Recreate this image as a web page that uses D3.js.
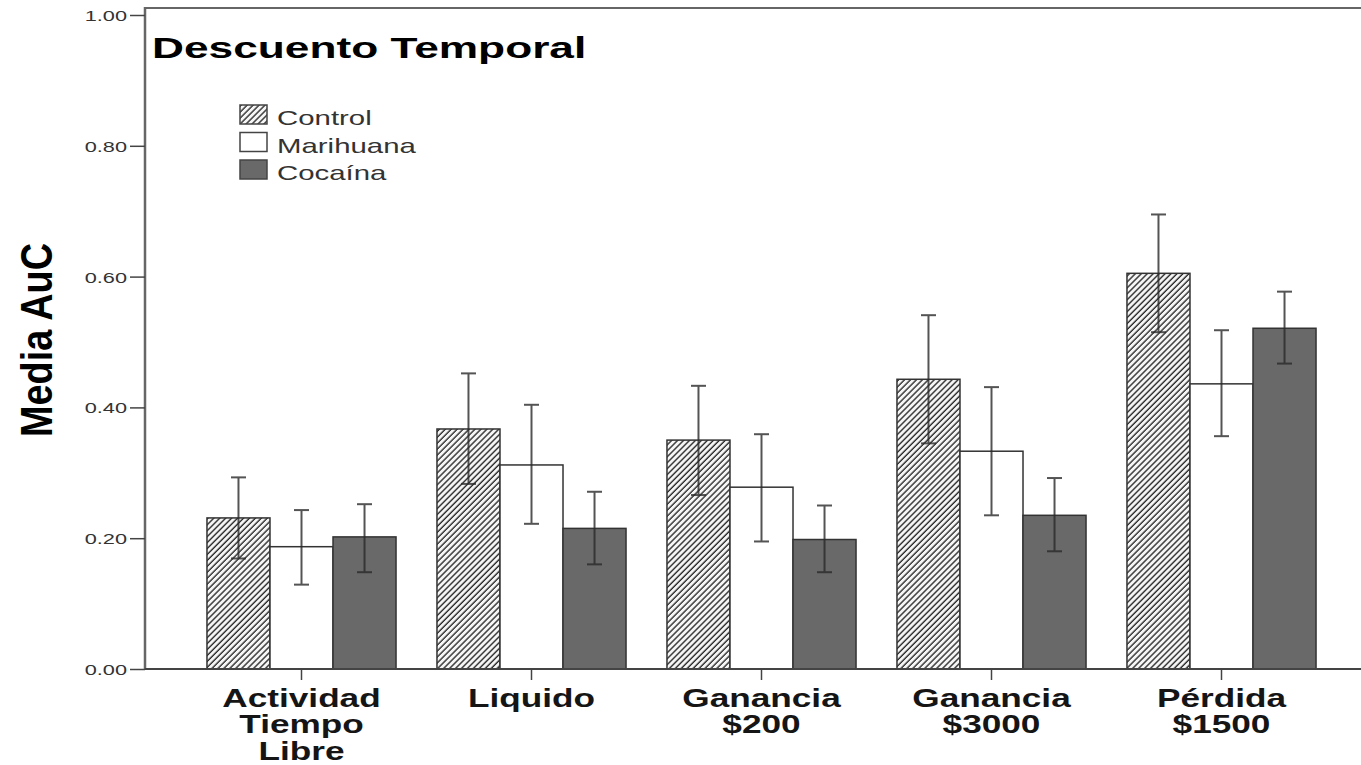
<!DOCTYPE html>
<html>
<head>
<meta charset="utf-8">
<script src="https://cdn.jsdelivr.net/npm/d3@7"></script>
<style>
    body { margin: 0; background: #fff; }
    text { font-family: "Liberation Sans", Arial, sans-serif; }
</style>
</head>
<body>
<div id="chart"></div>
<script>
// categories (one array of lines per label)
const categories = [
    ['Actividad', 'Tiempo', 'Libre'],
    ['Liquido'],
    ['Ganancia', '$200'],
    ['Ganancia', '$3000'],
    ['Pérdida', '$1500']
]
const seriesNames = ['Control', 'Marihuana', 'Cocaína']

const controlMean = [0.231, 0.367, 0.350, 0.443, 0.605]
const controlLow = [0.169, 0.283, 0.266, 0.345, 0.515]
const controlHigh = [0.293, 0.452, 0.433, 0.541, 0.695]

const marihuanaMean = [0.187, 0.312, 0.278, 0.333, 0.436]
const marihuanaLow = [0.129, 0.222, 0.195, 0.235, 0.356]
const marihuanaHigh = [0.243, 0.404, 0.359, 0.431, 0.518]

const cocainaMean = [0.202, 0.215, 0.198, 0.235, 0.521]
const cocainaLow = [0.148, 0.160, 0.148, 0.180, 0.467]
const cocainaHigh = [0.252, 0.271, 0.250, 0.292, 0.577]

const yTicks = [0, 0.2, 0.4, 0.6, 0.8, 1.0]

const createGraph = () => {
    const width = 1361
    const height = 765
    const left = 145
    const right = 1361
    const y0 = 669
    const y1 = 15

    const series = [
        { name: seriesNames[0], mean: controlMean, low: controlLow, high: controlHigh, fill: 'url(#hatch)' },
        { name: seriesNames[1], mean: marihuanaMean, low: marihuanaLow, high: marihuanaHigh, fill: '#ffffff' },
        { name: seriesNames[2], mean: cocainaMean, low: cocainaLow, high: cocainaHigh, fill: '#696969' }
    ]

    const catIdx = categories.map((c, i) => i)
    const xScale = d3.scaleBand().domain(catIdx).range([186.5, 1336.5]).paddingInner(0.178).paddingOuter(0.089)
    const xInner = d3.scaleBand().domain(seriesNames).range([0, xScale.bandwidth()])
    const yScale = d3.scaleLinear().domain([0, 1]).range([y0, y1])

    const svg = d3.select('#chart')
        .append('svg')
        .attr('width', width)
        .attr('height', height)

    const defs = svg.append('defs')
    const pat = defs.append('pattern')
        .attr('id', 'hatch')
        .attr('patternUnits', 'userSpaceOnUse')
        .attr('width', 4.2)
        .attr('height', 4.2)
        .attr('patternTransform', 'rotate(45)')
    pat.append('rect').attr('width', 4.2).attr('height', 4.2).attr('fill', '#f6f6f6')
    pat.append('line')
        .attr('x1', 1).attr('y1', 0).attr('x2', 1).attr('y2', 4.2)
        .attr('stroke', '#2b2b2b').attr('stroke-width', 1.4)

    // frame top
    svg.append('line')
        .attr('x1', left).attr('x2', right)
        .attr('y1', yScale(1) - 7).attr('y2', yScale(1) - 7)
        .attr('stroke', '#666').attr('stroke-width', 2)

    // bars
    series.forEach((s) => {
        svg.append('g').selectAll('rect')
            .data(s.mean)
            .enter()
            .append('rect')
            .attr('x', (d, i) => xScale(i) + xInner(s.name))
            .attr('y', (d) => yScale(d))
            .attr('width', xInner.bandwidth())
            .attr('height', (d) => yScale(0) - yScale(d))
            .attr('fill', s.fill)
            .attr('stroke', '#333')
            .attr('stroke-width', 1.5)
    })

    // error bars
    series.forEach((s) => {
        const g = svg.append('g').attr('stroke', '#2a2a2a').attr('stroke-width', 2).attr('opacity', 0.8)
        s.mean.forEach((d, i) => {
            const cx = xScale(i) + xInner(s.name) + xInner.bandwidth() / 2
            g.append('line').attr('x1', cx).attr('x2', cx).attr('y1', yScale(s.low[i])).attr('y2', yScale(s.high[i]))
            g.append('line').attr('x1', cx - 7.5).attr('x2', cx + 7.5).attr('y1', yScale(s.low[i])).attr('y2', yScale(s.low[i]))
            g.append('line').attr('x1', cx - 7.5).attr('x2', cx + 7.5).attr('y1', yScale(s.high[i])).attr('y2', yScale(s.high[i]))
        })
    })

    // axes
    const yAxis = d3.axisLeft(yScale).tickValues(yTicks).tickFormat(d3.format('.2f')).tickSize(15)
    const yg = svg.append('g')
        .attr('transform', `translate(${left}, 0)`)
        .call(yAxis)
    yg.select('.domain').attr('stroke', '#666').attr('stroke-width', 2.5)
        .attr('d', `M0,${y0}V${y1 - 8}`)
    yg.selectAll('.tick line').attr('stroke', '#444').attr('stroke-width', 1.5)
    yg.selectAll('.tick text')
        .attr('x', null).attr('dy', null)
        .attr('transform', 'translate(-18, 5.5) scale(1.5, 1)')
        .attr('font-size', 14.5)
        .attr('fill', '#333')
        .attr('font-family', '"Liberation Sans", Arial, sans-serif')

    const xAxis = d3.axisBottom(xScale).tickFormat('').tickSize(11).tickSizeOuter(0)
    const xg = svg.append('g')
        .attr('transform', `translate(0, ${y0})`)
        .call(xAxis)
    xg.select('.domain').attr('stroke', '#444').attr('stroke-width', 2)
        .attr('d', `M${left},0H${right}`)
    xg.selectAll('.tick line').attr('stroke', '#444').attr('stroke-width', 1.5)

    // category labels
    categories.forEach((lines, i) => {
        const t = svg.append('text')
            .attr('transform', `translate(${xScale(i) + xScale.bandwidth() / 2}, 707) scale(1.38, 1)`)
            .attr('text-anchor', 'middle')
            .attr('font-size', 25.5)
            .attr('font-weight', 'bold')
            .attr('fill', '#151515')
        lines.forEach((l, j) => {
            t.append('tspan').attr('x', 0).attr('dy', j === 0 ? 0 : 26.5).text(l)
        })
    })

    // y title
    svg.append('text')
        .attr('transform', 'translate(52, 340) rotate(-90) scale(0.86, 1)')
        .attr('text-anchor', 'middle')
        .attr('font-size', 44)
        .attr('font-weight', 'bold')
        .attr('fill', '#000')
        .text('Media AuC')

    // title
    svg.append('text')
        .attr('transform', 'translate(152, 57.5) scale(1.5, 1)')
        .attr('font-size', 29.5)
        .attr('font-weight', 'bold')
        .attr('fill', '#000')
        .text('Descuento Temporal')

    // legend
    const legend = svg.append('g').attr('transform', 'translate(240, 105)')
    series.forEach((s, i) => {
        legend.append('rect')
            .attr('x', 0).attr('y', i * 27.5)
            .attr('width', 27).attr('height', 19)
            .attr('fill', s.fill)
            .attr('stroke', '#444').attr('stroke-width', 1.5)
        legend.append('text')
            .attr('transform', `translate(37, ${i * 27.5 + 20}) scale(1.4, 1)`)
            .attr('font-size', 21)
            .attr('fill', '#333')
            .text(s.name)
    })
}

createGraph()
</script>
</body>
</html>
